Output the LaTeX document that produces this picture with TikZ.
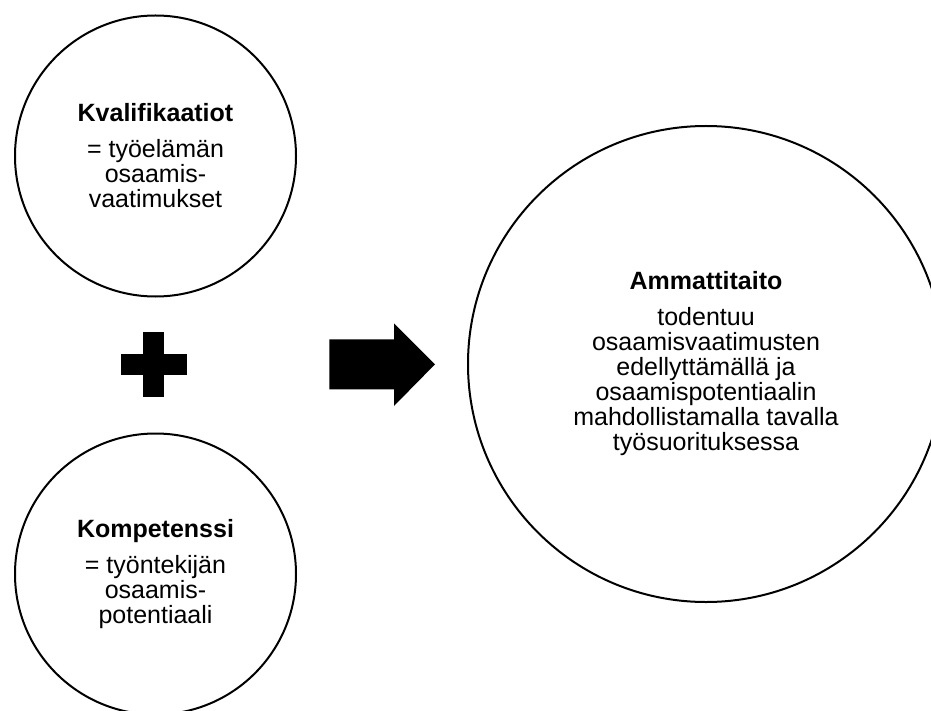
\documentclass[tikz,border=0pt]{standalone}
\usepackage{fontspec}
\setmainfont{Liberation Sans}
\begin{document}
\begin{tikzpicture}[x=1pt,y=-1pt,
  bubble/.style={circle,draw=black,line width=2pt,align=center,inner sep=0pt,
    font=\fontsize{25}{25}\selectfont},
  solid shape/.style={fill=black,draw=none}]
\useasboundingbox (0,0) rectangle (931,711);
\clip (0,0) rectangle (931,711);
\node[bubble,minimum size=281pt] (kval) at (155.5,156)
  {\textbf{Kvalifikaatiot}\\[11pt]= työelämän\\osaamis-\\vaatimukset};
\node[bubble,minimum size=281pt] (komp) at (155.5,574)
  {\textbf{Kompetenssi}\\[11pt]= työntekijän\\osaamis-\\potentiaali};
\node[bubble,minimum size=476pt] (amm) at (706,364)
  {\textbf{Ammattitaito}\\[11pt]todentuu\\osaamisvaatimusten\\edellyttämällä ja\\osaamispotentiaalin\\mahdollistamalla tavalla\\työsuorituksessa};
% plus sign
\fill[solid shape] (143.3,331.7) rectangle (164,397.3);
\fill[solid shape] (120.7,354) rectangle (186.7,375);
% block arrow
\fill[solid shape] (329.3,339.3) -- (394,339.3) -- (394,323.3) -- (435,364.3)
  -- (394,406) -- (394,389.3) -- (329.3,389.3) -- cycle;
\end{tikzpicture}
\end{document}
